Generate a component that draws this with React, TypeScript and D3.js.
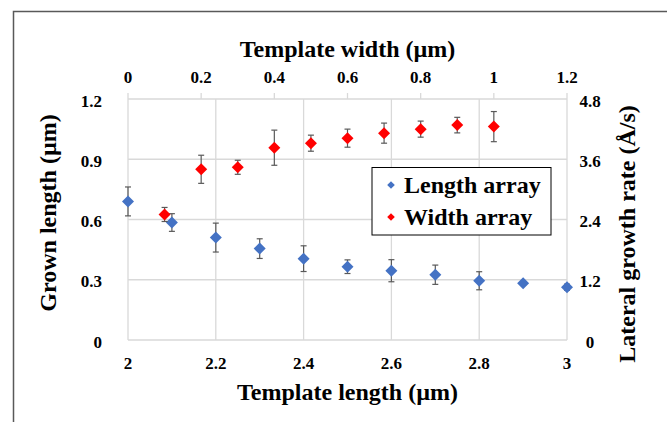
import React from "react";
import * as d3 from "d3";

// Length array: grown length vs template length (bottom / left axes)
const lengthX = [2.0, 2.1, 2.2, 2.3, 2.4, 2.5, 2.6, 2.7, 2.8, 2.9, 3.0];
const lengthY = [0.69, 0.585, 0.51, 0.455, 0.405, 0.365, 0.345, 0.325, 0.295, 0.282, 0.263];
const lengthErr = [0.072, 0.044, 0.072, 0.049, 0.064, 0.034, 0.055, 0.048, 0.045, 0.01, 0.015];

// Width array: lateral growth rate vs template width (top / right axes)
const widthX = [0.1, 0.2, 0.3, 0.4, 0.5, 0.6, 0.7, 0.8, 0.9, 1.0];
const widthY = [2.5, 3.4, 3.44, 3.83, 3.92, 4.02, 4.12, 4.2, 4.28, 4.25];
const widthErr = [0.14, 0.28, 0.14, 0.35, 0.16, 0.18, 0.2, 0.16, 0.155, 0.3];

const bottomTicks = [2, 2.2, 2.4, 2.6, 2.8, 3];
const topTicks = [0, 0.2, 0.4, 0.6, 0.8, 1, 1.2];
const leftTicks = [0, 0.3, 0.6, 0.9, 1.2];
const rightTicks = [0, 1.2, 2.4, 3.6, 4.8];

const seriesNames = ["Length array", "Width array"];

const W = 667;
const H = 422;
const plot = { left: 128, right: 567, top: 99, bottom: 340 };

const BLUE = "#4472C4";
const RED = "#FF0000";
const GRID = "#d9d9d9";
const ERR = "#595959";
const FONT = "'Liberation Serif', 'Times New Roman', serif";

const xBottom = d3.scaleLinear().domain([2, 3]).range([plot.left, plot.right]);
const xTop = d3.scaleLinear().domain([0, 1.2]).range([plot.left, plot.right]);
const yLeft = d3.scaleLinear().domain([0, 1.2]).range([plot.bottom, plot.top]);
const yRight = d3.scaleLinear().domain([0, 4.8]).range([plot.bottom, plot.top]);

const diamond = (cx: number, cy: number, r: number) =>
  `M${cx},${cy - r}L${cx + r},${cy}L${cx},${cy + r}L${cx - r},${cy}Z`;

const fmt = (v: number) => String(+v.toFixed(2));

function ErrorBar({ x, y0, y1 }: { x: number; y0: number; y1: number }) {
  const cap = 3;
  return (
    <g stroke={ERR} strokeWidth={1.2}>
      <line x1={x} x2={x} y1={y0} y2={y1} />
      <line x1={x - cap} x2={x + cap} y1={y0} y2={y0} />
      <line x1={x - cap} x2={x + cap} y1={y1} y2={y1} />
    </g>
  );
}

export default function App() {
  const r = 6;
  const textStyle = { fontFamily: FONT, fontWeight: 700 } as const;
  return (
    <svg
      width={W}
      height={H}
      style={{ position: "fixed", left: 0, top: 0, background: "#fff" }}
    >
      <rect x={0} y={0} width={W} height={H} fill="#fff" />
      {/* chart area frame */}
      <rect x={13.5} y={11.5} width={W + 20} height={H + 20} fill="none" stroke="#595959" strokeWidth={1.5} />

      {/* gridlines */}
      {bottomTicks.map((t) => (
        <line key={"vg" + t} x1={xBottom(t)} x2={xBottom(t)} y1={plot.top} y2={plot.bottom} stroke={GRID} strokeWidth={1.3} />
      ))}
      {leftTicks.map((t) => (
        <line key={"hg" + t} x1={plot.left} x2={plot.right} y1={yLeft(t)} y2={yLeft(t)} stroke={GRID} strokeWidth={1.3} />
      ))}
      {/* top axis tick marks */}
      {topTicks.map((t) => (
        <line key={"tt" + t} x1={xTop(t)} x2={xTop(t)} y1={plot.top - 6} y2={plot.top} stroke={GRID} strokeWidth={1.3} />
      ))}

      {/* tick labels */}
      <g style={{ ...textStyle, fontSize: 17 }} fill="#000">
        {bottomTicks.map((t) => (
          <text key={"bl" + t} x={xBottom(t)} y={369} textAnchor="middle">{fmt(t)}</text>
        ))}
        {topTicks.map((t) => (
          <text key={"tl" + t} x={xTop(t)} y={83} textAnchor="middle">{fmt(t)}</text>
        ))}
        {leftTicks.map((t) => (
          <text key={"ll" + t} x={102} y={yLeft(t) + 7.5} textAnchor="end">{fmt(t)}</text>
        ))}
        {rightTicks.map((t) => (
          <text key={"rl" + t} x={590} y={yRight(t) + 7.5} textAnchor="middle">{fmt(t)}</text>
        ))}
      </g>

      {/* axis titles */}
      <g style={{ ...textStyle, fontSize: 24 }} fill="#000">
        <text x={(plot.left + plot.right) / 2} y={57} textAnchor="middle">Template width (µm)</text>
        <text x={(plot.left + plot.right) / 2} y={400} textAnchor="middle">Template length (µm)</text>
        <text transform={`translate(56,213) rotate(-90)`} textAnchor="middle">Grown length (µm)</text>
        <text transform={`translate(635,234) rotate(-90)`} textAnchor="middle">Lateral growth rate (Å/s)</text>
      </g>

      {/* Length array */}
      {lengthX.map((x, i) => (
        <ErrorBar key={"le" + i} x={xBottom(x)} y0={yLeft(lengthY[i] + lengthErr[i])} y1={yLeft(lengthY[i] - lengthErr[i])} />
      ))}
      {lengthX.map((x, i) => (
        <path key={"lm" + i} d={diamond(xBottom(x), yLeft(lengthY[i]), r)} fill={BLUE} />
      ))}

      {/* Width array */}
      {widthX.map((x, i) => (
        <ErrorBar key={"we" + i} x={xTop(x)} y0={yRight(widthY[i] + widthErr[i])} y1={yRight(widthY[i] - widthErr[i])} />
      ))}
      {widthX.map((x, i) => (
        <path key={"wm" + i} d={diamond(xTop(x), yRight(widthY[i]), r)} fill={RED} />
      ))}

      {/* legend */}
      <g>
        <rect x={372} y={167.5} width={179} height={67.5} fill="#fff" stroke="#000" strokeWidth={1} />
        {seriesNames.map((name, i) => (
          <g key={name}>
            <path d={diamond(391, 185 + i * 32, 3.8)} fill={i === 0 ? BLUE : RED} />
            <text x={404} y={193 + i * 32} style={{ ...textStyle, fontSize: 24 }} fill="#000">{name}</text>
          </g>
        ))}
      </g>
    </svg>
  );
}
